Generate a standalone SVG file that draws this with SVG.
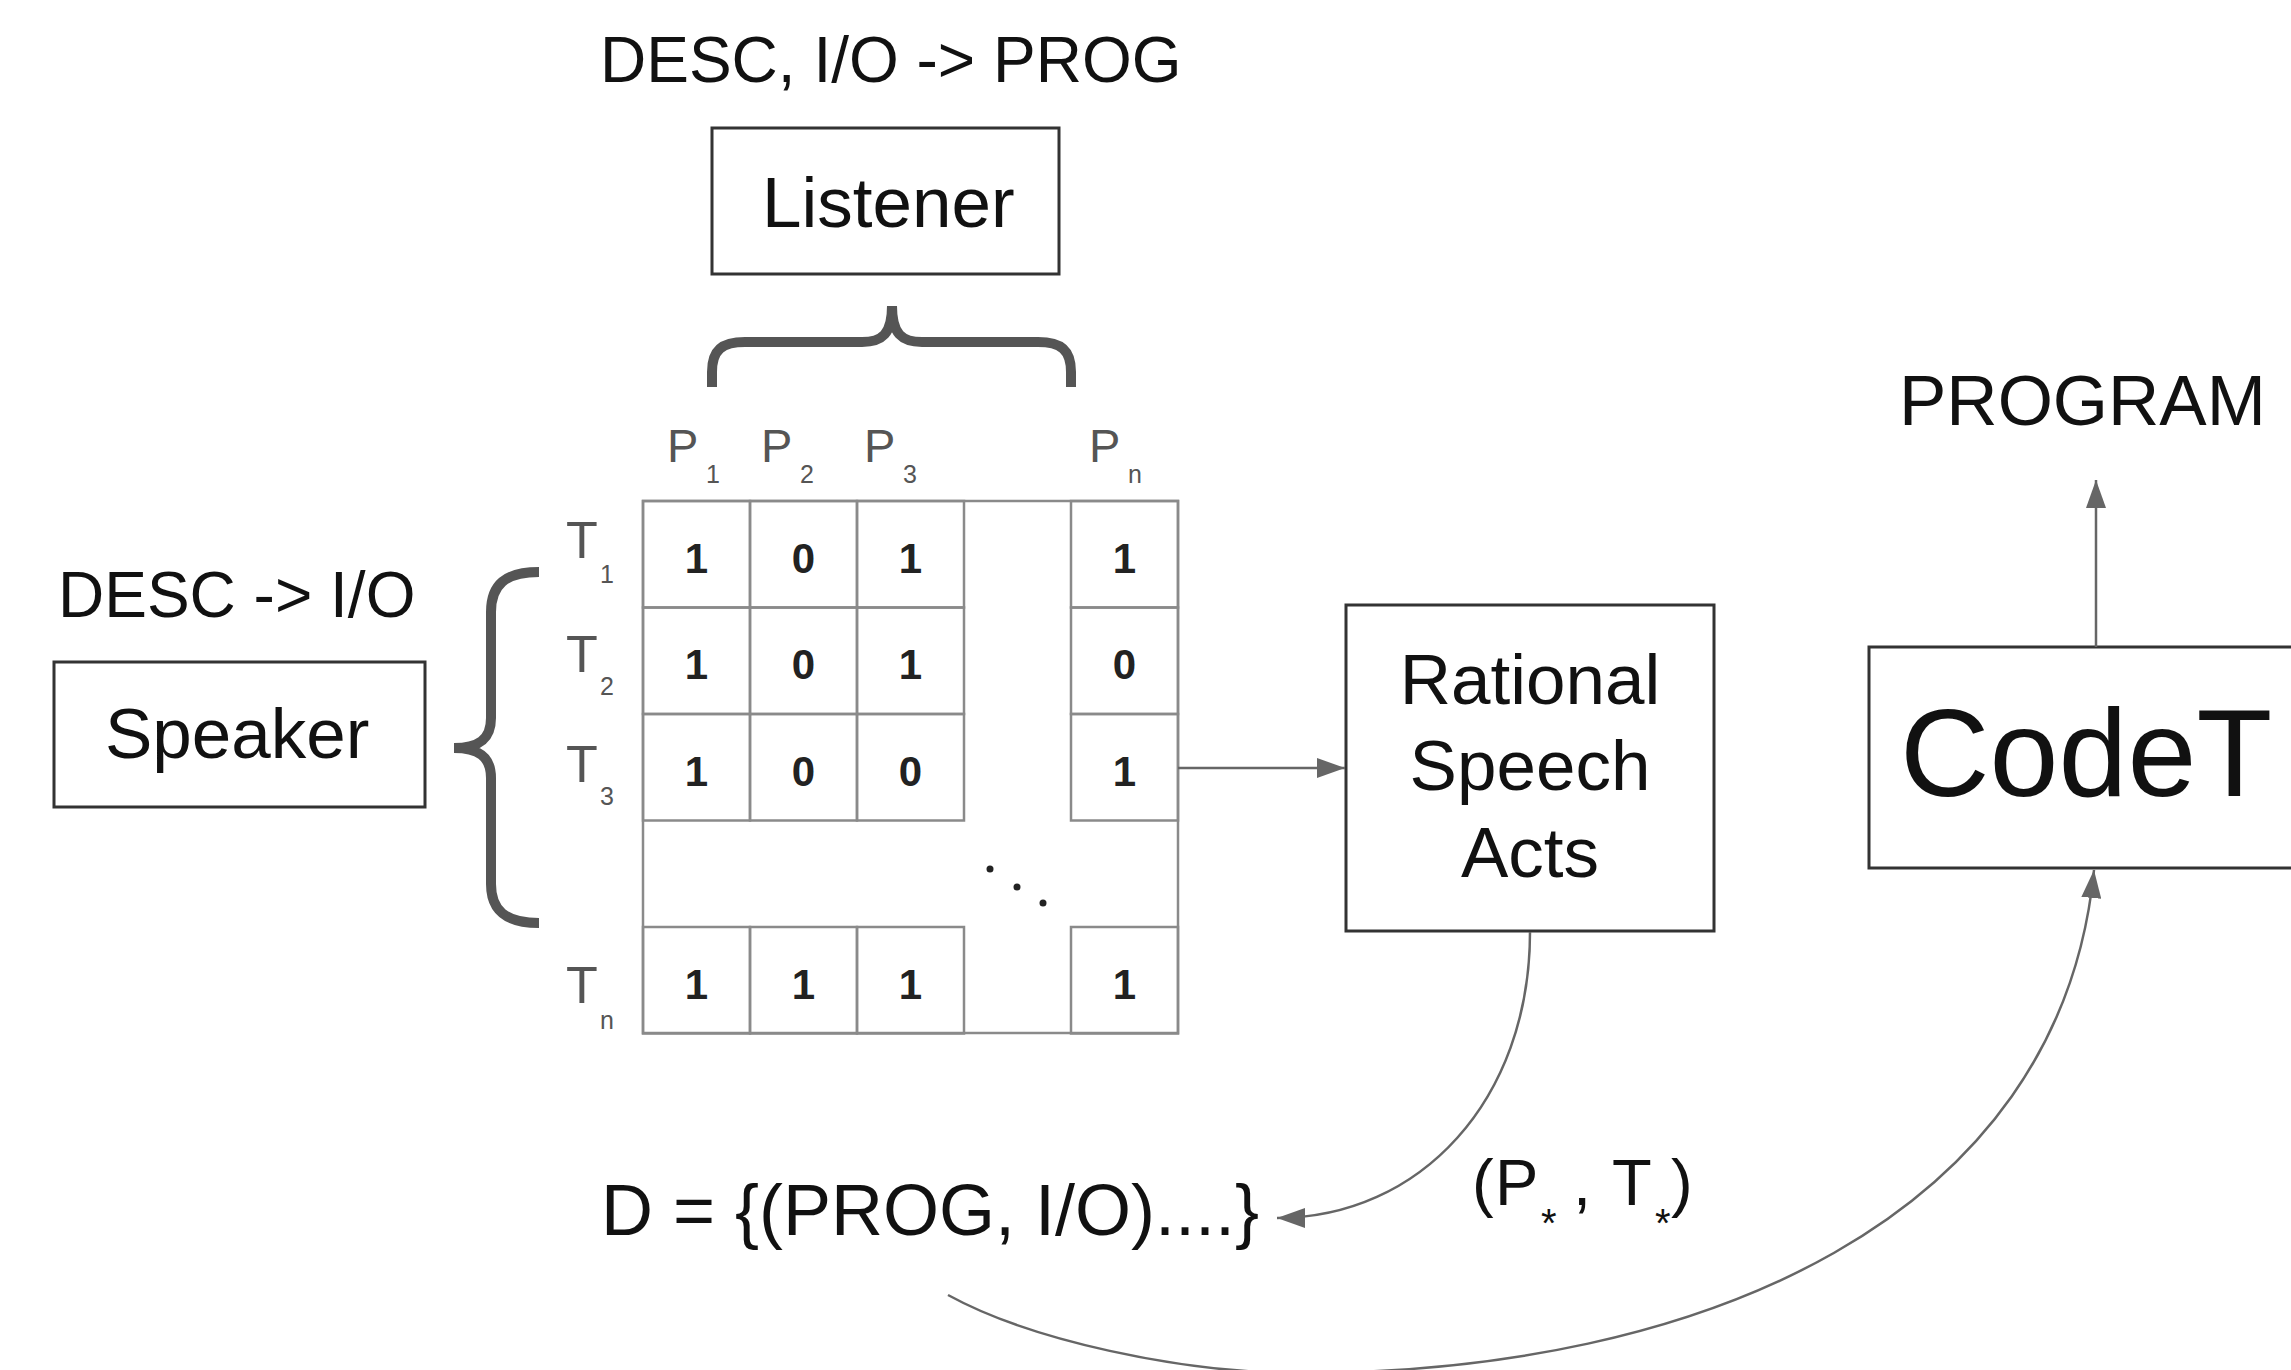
<svg xmlns="http://www.w3.org/2000/svg" width="2291" height="1370" viewBox="0 0 2291 1370">
  <style>
    text { font-family: "Liberation Sans", Arial, sans-serif; fill: #111; }
    .box { fill: #fff; stroke: #333; stroke-width: 3; }
    .cell { fill: none; stroke: #8a8a8a; stroke-width: 2.5; }
    .num { font-size: 42px; font-weight: bold; fill: #222; text-anchor: middle; }
    .plbl { font-size: 47px; fill: #555; }
    .tlbl { font-size: 52px; fill: #555; }
    .sub { font-size: 25px; fill: #555; }
    .brace { fill: none; stroke: #555; stroke-width: 10; }
    .conn { fill: none; stroke: #666; stroke-width: 2.5; }
    .big { font-size: 71px; }
    .cap { font-size: 64px; }
  </style>
  <defs>
    <marker id="arrow" markerUnits="userSpaceOnUse" markerWidth="28" markerHeight="20" refX="28" refY="10" orient="auto">
      <path d="M0,0 L28,10 L0,20 z" fill="#666"/>
    </marker>
  </defs>
  <rect width="2291" height="1370" fill="#fff"/>

  <!-- Listener -->
  <g id="listener">
    <text class="cap" x="600" y="82">DESC, I/O -&gt; PROG</text>
    <rect class="box" x="712" y="128" width="347" height="146"/>
    <text class="big" x="762" y="227">Listener</text>
  </g>

  <!-- Speaker -->
  <g id="speaker">
    <text class="cap" x="58" y="617">DESC -&gt; I/O</text>
    <rect class="box" x="54" y="662" width="371" height="145"/>
    <text class="big" x="105" y="758">Speaker</text>
  </g>

  <!-- Braces -->
  <g id="braces">
    <path class="brace" d="M712,387 L712,372 C712,350 722,342 745,342 L862,342 C882,342 892,334 892,306 C892,334 902,342 922,342 L1038,342 C1061,342 1071,350 1071,372 L1071,387"/>
    <path class="brace" d="M539,572 C505,572 491,585 491,612 L491,718 C491,740 478,748 454,748 C478,748 491,756 491,778 L491,884 C491,910 505,923 539,923"/>
  </g>

  <!-- Program / test matrix -->
  <g id="matrix">
    <rect class="cell" x="643" y="501" width="535" height="532"/>
    <rect class="cell" x="643" y="501" width="107" height="106.5"/>
    <rect class="cell" x="750" y="501" width="107" height="106.5"/>
    <rect class="cell" x="857" y="501" width="107" height="106.5"/>
    <rect class="cell" x="1071" y="501" width="107" height="106.5"/>
    <rect class="cell" x="643" y="607.5" width="107" height="106.5"/>
    <rect class="cell" x="750" y="607.5" width="107" height="106.5"/>
    <rect class="cell" x="857" y="607.5" width="107" height="106.5"/>
    <rect class="cell" x="1071" y="607.5" width="107" height="106.5"/>
    <rect class="cell" x="643" y="714" width="107" height="106.5"/>
    <rect class="cell" x="750" y="714" width="107" height="106.5"/>
    <rect class="cell" x="857" y="714" width="107" height="106.5"/>
    <rect class="cell" x="1071" y="714" width="107" height="106.5"/>
    <rect class="cell" x="643" y="927" width="107" height="106.5"/>
    <rect class="cell" x="750" y="927" width="107" height="106.5"/>
    <rect class="cell" x="857" y="927" width="107" height="106.5"/>
    <rect class="cell" x="1071" y="927" width="107" height="106.5"/>

    <text class="num" x="696.5" y="573">1</text>
    <text class="num" x="803.5" y="573">0</text>
    <text class="num" x="910.5" y="573">1</text>
    <text class="num" x="1124.5" y="573">1</text>
    <text class="num" x="696.5" y="679">1</text>
    <text class="num" x="803.5" y="679">0</text>
    <text class="num" x="910.5" y="679">1</text>
    <text class="num" x="1124.5" y="679">0</text>
    <text class="num" x="696.5" y="786">1</text>
    <text class="num" x="803.5" y="786">0</text>
    <text class="num" x="910.5" y="786">0</text>
    <text class="num" x="1124.5" y="786">1</text>
    <text class="num" x="696.5" y="999">1</text>
    <text class="num" x="803.5" y="999">1</text>
    <text class="num" x="910.5" y="999">1</text>
    <text class="num" x="1124.5" y="999">1</text>

    <circle cx="990" cy="869" r="3.5" fill="#222"/>
    <circle cx="1017" cy="887" r="3.5" fill="#222"/>
    <circle cx="1043" cy="903" r="3.5" fill="#222"/>

    <text class="plbl" x="667" y="462">P</text><text class="sub" x="706" y="483">1</text>
    <text class="plbl" x="761" y="462">P</text><text class="sub" x="800" y="483">2</text>
    <text class="plbl" x="864" y="462">P</text><text class="sub" x="903" y="483">3</text>
    <text class="plbl" x="1089" y="462">P</text><text class="sub" x="1128" y="483">n</text>

    <text class="tlbl" x="566" y="558">T</text><text class="sub" x="600" y="583">1</text>
    <text class="tlbl" x="566" y="672">T</text><text class="sub" x="600" y="695">2</text>
    <text class="tlbl" x="566" y="782">T</text><text class="sub" x="600" y="805">3</text>
    <text class="tlbl" x="566" y="1003">T</text><text class="sub" x="600" y="1029">n</text>
  </g>

  <!-- Rational Speech Acts -->
  <g id="rsa">
    <rect class="box" x="1346" y="605" width="368" height="326"/>
    <text class="big" x="1530" y="704" text-anchor="middle">Rational</text>
    <text class="big" x="1530" y="790" text-anchor="middle">Speech</text>
    <text class="big" x="1530" y="877" text-anchor="middle">Acts</text>
  </g>

  <!-- CodeT -->
  <g id="codet">
    <rect class="box" x="1869" y="647" width="460" height="221"/>
    <text x="1900" y="796" font-size="124">CodeT</text>
  </g>

  <!-- Output label -->
  <g id="program">
    <text class="big" x="1899" y="425">PROGRAM</text>
  </g>

  <!-- Dataset -->
  <g id="dataset">
    <text x="601" y="1235" font-size="72">D = {(PROG, I/O)....}</text>
  </g>

  <!-- Selected pair label -->
  <g id="selected">
    <text font-size="65" y="1205"><tspan x="1472">(</tspan><tspan x="1495">P</tspan><tspan x="1573">,</tspan><tspan x="1612">T</tspan><tspan x="1671">)</tspan></text>
    <text font-size="40" x="1541" y="1237">*</text>
    <text font-size="40" x="1655" y="1237">*</text>
  </g>

  <!-- Connectors -->
  <g id="connectors">
    <path class="conn" d="M1178,768 L1345,768" marker-end="url(#arrow)"/>
    <path class="conn" d="M1530,932 C1530,1100 1420,1218 1277,1218" marker-end="url(#arrow)"/>
    <path class="conn" d="M2096,647 L2096,480" marker-end="url(#arrow)"/>
    <path class="conn" d="M948,1295 C1030,1340 1180,1373 1300,1373 C1700,1373 2060,1220 2094,870" marker-end="url(#arrow)"/>
  </g>
</svg>
